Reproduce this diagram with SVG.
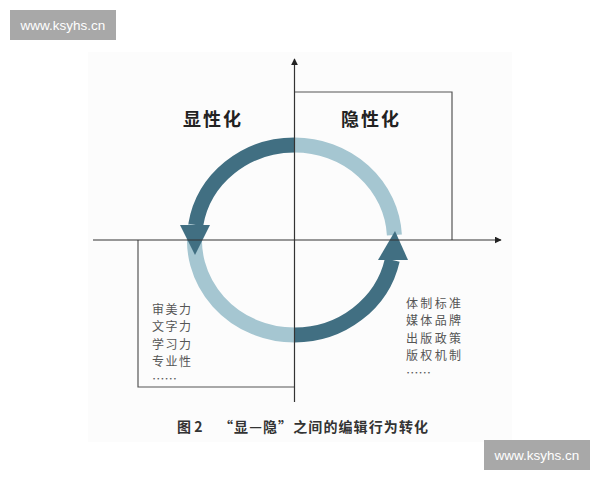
<svg xmlns="http://www.w3.org/2000/svg" width="600" height="480" viewBox="0 0 600 480">
<defs>
<marker id="ah" viewBox="0 0 10 10" refX="9" refY="5" markerWidth="7" markerHeight="7" orient="auto" markerUnits="userSpaceOnUse">
<path d="M0,0 L10,5 L0,10 z" fill="#222"/>
</marker>
</defs>
<style>
.axis{stroke:#333;stroke-width:1.2;fill:none}
.box{stroke:#555;stroke-width:1.2;fill:none}
.dark{stroke:#416f82;stroke-width:15;fill:none}
.light{stroke:#a5c6d1;stroke-width:15;fill:none}
.darkf{fill:#416f82}
.title{font-family:"Noto Sans CJK SC","Noto Sans CJK JP",sans-serif;font-weight:700;font-size:18px;fill:#222;text-anchor:middle}
.item{font-family:"Noto Sans CJK SC","Noto Sans CJK JP",sans-serif;font-size:12px;fill:#555}
.cap{font-family:"Noto Sans CJK SC","Noto Sans CJK JP",sans-serif;font-weight:700;font-size:14px;fill:#333}
.wm{fill:#a8a8a8}
.wmt{font-family:"Liberation Sans",Arial,sans-serif;font-size:13.5px;fill:#fff;text-anchor:middle}
</style>
<rect width="600" height="480" fill="#fff"/>
<rect x="88" y="52" width="424" height="390" fill="#fcfcfc"/>

<g id="box-hidden">
<polyline class="box" points="294.5,92 452,92 452,240"/>
</g>
<g id="box-explicit">
<polyline class="box" points="138,240 138,387 294.5,387"/>
</g>

<g id="cycle">
<path class="light" d="M294.5,145 A100,95 0 0 1 394.4,235"/>
<path class="light" d="M195.7,225 A100,95 0 0 0 294.5,335"/>
<path class="dark" d="M294.5,145 A100,95 0 0 0 195.7,225"/>
<path class="dark" d="M294.5,335 A100,95 0 0 0 392.3,260"/>
<polygon class="darkf" points="180,225 210,225 195,255"/>
<polygon class="darkf" points="378,260 408,260 395,231"/>
</g>

<g id="connectors">
<line class="axis" x1="294.5" y1="402" x2="294.5" y2="59" marker-end="url(#ah)"/>
<line class="axis" x1="93" y1="240" x2="501" y2="240" marker-end="url(#ah)"/>
</g>

<g id="label-explicit">
<text class="title" x="213" y="126" letter-spacing="2">显性化</text>
</g>
<g id="label-hidden">
<text class="title" x="371" y="126" letter-spacing="2">隐性化</text>
</g>

<g id="list-explicit">
<text class="item" x="152" y="313.5" textLength="39" lengthAdjust="spacing">审美力</text>
<text class="item" x="152" y="331" textLength="39" lengthAdjust="spacing">文字力</text>
<text class="item" x="152" y="348.5" textLength="39" lengthAdjust="spacing">学习力</text>
<text class="item" x="152" y="366" textLength="39" lengthAdjust="spacing">专业性</text>
<text class="item" x="152" y="383.5" textLength="25" lengthAdjust="spacingAndGlyphs">……</text>
</g>
<g id="list-hidden">
<text class="item" x="406" y="307.5" textLength="55" lengthAdjust="spacing">体制标准</text>
<text class="item" x="406" y="325" textLength="55" lengthAdjust="spacing">媒体品牌</text>
<text class="item" x="406" y="342.5" textLength="55" lengthAdjust="spacing">出版政策</text>
<text class="item" x="406" y="360" textLength="55" lengthAdjust="spacing">版权机制</text>
<text class="item" x="406" y="377.5" textLength="25" lengthAdjust="spacingAndGlyphs">……</text>
</g>

<g id="caption">
<text class="cap" x="177" y="432">图 2</text>
<text class="cap" x="219" y="432" textLength="209" lengthAdjust="spacing">“显—隐”之间的编辑行为转化</text>
</g>

<g id="watermark-top">
<rect class="wm" x="10" y="10" width="106" height="30"/>
<text class="wmt" x="63" y="30">www.ksyhs.cn</text>
</g>
<g id="watermark-bottom">
<rect class="wm" x="484" y="440" width="106" height="30"/>
<text class="wmt" x="537" y="460">www.ksyhs.cn</text>
</g>
</svg>
